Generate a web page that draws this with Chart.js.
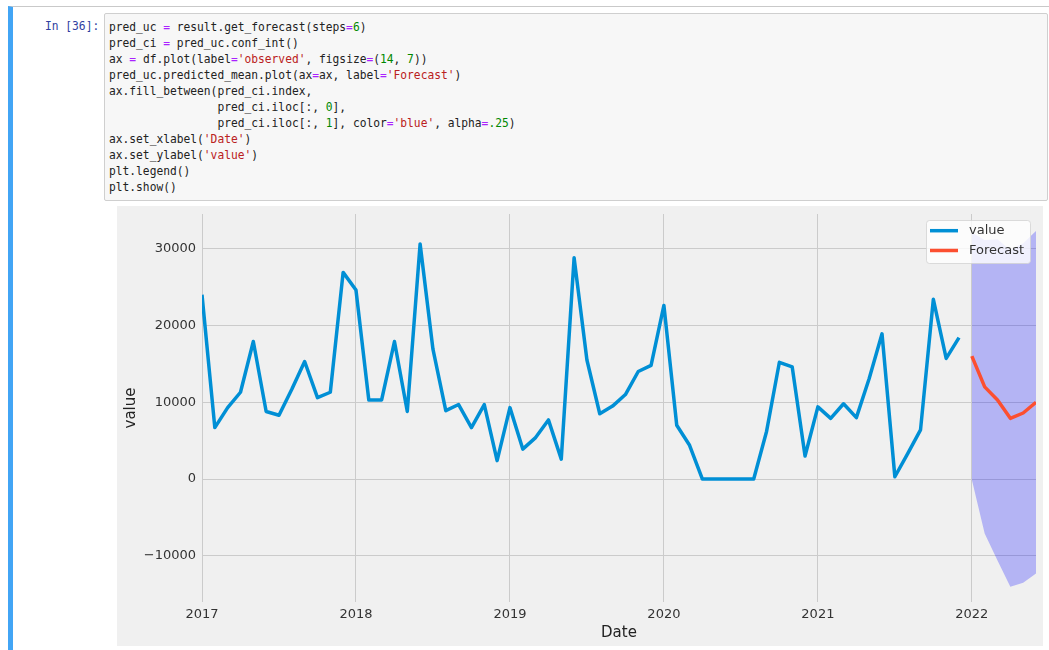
<!DOCTYPE html>
<html>
<head>
<meta charset="utf-8">
<script src="https://cdn.jsdelivr.net/npm/chart.js@4/dist/chart.umd.min.js"></script>
<style>
  html, body { margin: 0; padding: 0; background: #fff; }
  body { width: 1049px; height: 650px; overflow: hidden; position: relative; }
  .cell {
    position: absolute; left: 8px; top: 6px; width: 1060px; height: 700px;
    border-top: 1px solid #c9c9c9; border-left: 5px solid #42a5f5; box-sizing: border-box;
  }
  .mono {
    font-family: "DejaVu Sans Mono", monospace; font-size: 12.3px; line-height: 16px;
    transform: scaleX(0.915); transform-origin: 0 0; white-space: pre;
  }
  .prompt { position: absolute; left: 45px; top: 18px; color: #303f9f; }
  .code {
    position: absolute; left: 104px; top: 13px; width: 944px; height: 188px; box-sizing: border-box;
    background: #f7f7f7; border: 1px solid #cfcfcf; border-radius: 2px;
  }
  .code .mono { position: absolute; left: 4px; top: 5px; color: #222; }
  .op { color: #aa22ff; }
  .num { color: #008800; }
  .str { color: #ba2121; }
  #wrap { position: absolute; left: 117px; top: 206px; width: 926px; height: 440px; background: #f0f0f0; }
</style>
</head>
<body>
<div class="cell"></div>
<div class="prompt mono">In [36]:</div>
<div class="code"><div class="mono">pred_uc <span class="op">=</span> result.get_forecast(steps<span class="op">=</span><span class="num">6</span>)
pred_ci <span class="op">=</span> pred_uc.conf_int()
ax <span class="op">=</span> df.plot(label<span class="op">=</span><span class="str">'observed'</span>, figsize<span class="op">=</span>(<span class="num">14</span>, <span class="num">7</span>))
pred_uc.predicted_mean.plot(ax<span class="op">=</span>ax, label<span class="op">=</span><span class="str">'Forecast'</span>)
ax.fill_between(pred_ci.index,
                pred_ci.iloc[:, <span class="num">0</span>],
                pred_ci.iloc[:, <span class="num">1</span>], color<span class="op">=</span><span class="str">'blue'</span>, alpha<span class="op">=</span><span class="num">.25</span>)
ax.set_xlabel(<span class="str">'Date'</span>)
ax.set_ylabel(<span class="str">'value'</span>)
plt.legend()
plt.show()</div></div>
<div id="wrap"><canvas id="chart" width="926" height="440"></canvas></div>

<script>
// ==============================
// DATA (monthly, starting Jan 2017)
// ==============================
const yearTicks = ["2017", "2018", "2019", "2020", "2021", "2022"];
const yTicks = [-10000, 0, 10000, 20000, 30000];

const observed = [
  24000, 6700, 9300, 11300, 17900, 8800, 8300, 11700, 15300, 10600, 11300, 26900,
  24600, 10300, 10300, 17900, 8800, 30600, 16900, 8900, 9700, 6700, 9700, 2400,
  9300, 3900, 5400, 7700, 2600, 28800, 15500, 8500, 9500, 11000, 14000, 14800,
  22600, 7000, 4400, 0, 0, 0, 0, 0, 6200, 15200, 14600, 3000,
  9400, 7900, 9800, 8000, 13100, 18900, 300, 3300, 6400, 23400, 15700, 18400,
];

const forecast = [16000, 12000, 10300, 7900, 8600, 10000];
const ciLower = [-100, -7100, -10600, -14000, -13500, -12300];
const ciUpper = [32100, 31100, 31200, 29800, 30700, 32300];

const MONTHS = 12;

// ==============================
// HELPERS
// ==============================
const toPoints = (arr, start) => arr.map((v, i) => ({ x: start + i, y: v }));
const fmtTick = (v) => (v < 0 ? "\u2212" + Math.abs(v) : String(v));

// legend box drawn like matplotlib's (upper right, semi transparent)
const boxLegend = {
  id: "boxLegend",
  afterDatasetsDraw(chart) {
    const ctx = chart.ctx;
    const items = chart.data.datasets.filter((d) => d.inLegend);
    ctx.save();
    ctx.fillStyle = "rgba(255,255,255,0.8)";
    ctx.strokeStyle = "rgba(210,210,210,0.8)";
    ctx.lineWidth = 1;
    ctx.beginPath();
    ctx.roundRect(809.5, 14.5, 104, 43, 3);
    ctx.fill();
    ctx.stroke();

    items.forEach((d, i) => {
      const y = 24.7 + i * 19.8;
      ctx.strokeStyle = d.borderColor;
      ctx.lineWidth = d.borderWidth;
      ctx.beginPath();
      ctx.moveTo(813, y);
      ctx.lineTo(841, y);
      ctx.stroke();
      ctx.fillStyle = "#333";
      ctx.font = "13px 'DejaVu Sans'";
      ctx.textBaseline = "middle";
      ctx.fillText(d.label, 852, y);
    });
    ctx.restore();
  },
};

// ==============================
// CHART
// ==============================
const ctx = document.getElementById("chart").getContext("2d");

new Chart(ctx, {
  type: "line",
  data: {
    datasets: [
      {
        label: "value",
        inLegend: true,
        data: toPoints(observed, 0),
        borderColor: "#008fd5",
        borderWidth: 3.5,
        borderJoinStyle: "round",
        pointRadius: 0,
        fill: false,
        tension: 0,
      },
      {
        label: "Forecast",
        inLegend: true,
        data: toPoints(forecast, observed.length),
        borderColor: "#fc4f30",
        borderWidth: 3.5,
        borderJoinStyle: "round",
        pointRadius: 0,
        fill: false,
        tension: 0,
      },
      {
        label: "lower",
        data: toPoints(ciLower, observed.length),
        borderWidth: 0,
        borderColor: "rgba(0,0,0,0)",
        pointRadius: 0,
        fill: false,
      },
      {
        label: "upper",
        data: toPoints(ciUpper, observed.length),
        borderWidth: 0,
        borderColor: "rgba(0,0,0,0)",
        backgroundColor: "rgba(0,0,255,0.25)",
        pointRadius: 0,
        fill: "-1",
      },
    ],
  },
  options: {
    responsive: false,
    animation: false,
    devicePixelRatio: 1,
    layout: { padding: { top: 8, right: 7, left: 0, bottom: 0 } },
    plugins: {
      legend: { display: false },
      tooltip: { enabled: false },
    },
    scales: {
      x: {
        type: "linear",
        min: 0,
        max: observed.length + forecast.length - 1,
        afterBuildTicks: (s) => {
          s.ticks = yearTicks.map((_, i) => ({ value: i * MONTHS }));
        },
        afterFit: (s) => {
          s.height = 44;
          s.paddingLeft = 0;
          s.paddingRight = 0;
        },
        grid: { color: "#cbcbcb", lineWidth: 1, drawTicks: false },
        border: { display: false },
        ticks: {
          autoSkip: false,
          maxRotation: 0,
          padding: 5,
          color: "#333",
          font: { family: "DejaVu Sans", size: 13 },
          callback: (v) => yearTicks[v / MONTHS],
        },
        title: {
          display: true,
          text: "Date",
          color: "#222",
          font: { family: "DejaVu Sans", size: 15 },
          padding: { top: 0, bottom: 4 },
        },
      },
      y: {
        min: -16000,
        max: 34500,
        afterBuildTicks: (s) => {
          s.ticks = yTicks.map((v) => ({ value: v }));
        },
        afterFit: (s) => {
          s.width = 85;
          s.paddingTop = 0;
          s.paddingBottom = 0;
        },
        grid: { color: "#cbcbcb", lineWidth: 1, drawTicks: false },
        border: { display: false },
        ticks: {
          padding: 6,
          color: "#333",
          font: { family: "DejaVu Sans", size: 13 },
          callback: (v) => fmtTick(v),
        },
        title: {
          display: true,
          text: "value",
          color: "#222",
          font: { family: "DejaVu Sans", size: 15 },
          padding: { top: 5, bottom: 0 },
        },
      },
    },
  },
  plugins: [boxLegend],
});
</script>
</body>
</html>
